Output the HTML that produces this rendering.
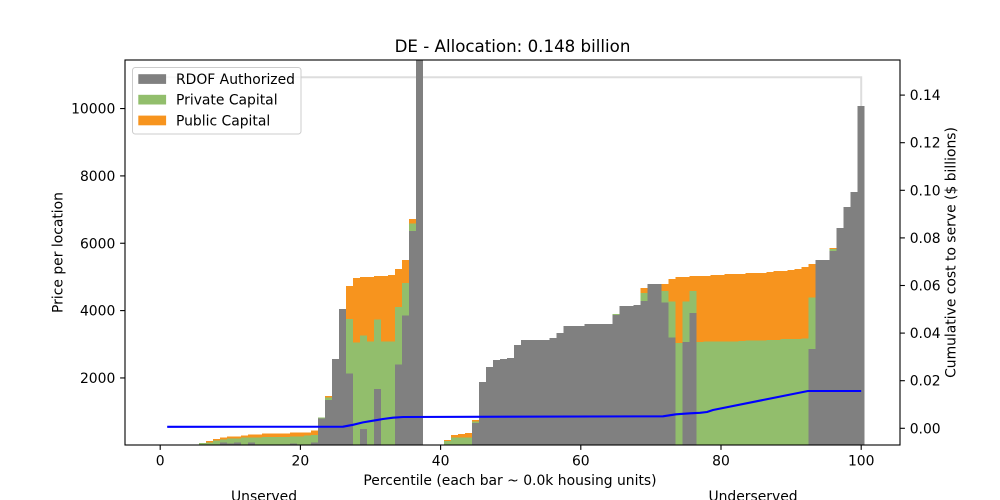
<!DOCTYPE html>
<html>
<head>
<meta charset="utf-8">
<style>
html,body{margin:0;padding:0;background:#fff;}
svg{display:block;}
text{font-family:"DejaVu Sans","Liberation Sans",sans-serif;fill:#000;}
</style>
</head>
<body>
<svg width="1000" height="500" viewBox="0 0 1000 500" xmlns="http://www.w3.org/2000/svg">
<rect x="0" y="0" width="1000" height="500" fill="#fff"/>
<defs><clipPath id="ax"><rect x="125" y="60" width="775" height="385"/></clipPath></defs>

<g clip-path="url(#ax)">
<polyline points="160.2,77.3 861.2,77.3 861.2,445" fill="none" stroke="#dddddd" stroke-width="2"/>

<g fill="#f7941e" shape-rendering="crispEdges">
<rect x="205.76" y="441" width="7.05" height="4"/>
<rect x="212.77" y="439" width="7.05" height="6"/>
<rect x="219.78" y="437.7" width="7.05" height="7.3"/>
<rect x="226.79" y="436.7" width="14.07" height="8.3"/>
<rect x="240.81" y="435.7" width="7.05" height="9.3"/>
<rect x="247.83" y="434.7" width="14.07" height="10.3"/>
<rect x="261.85" y="433.7" width="28.08" height="11.3"/>
<rect x="289.89" y="432.7" width="21.07" height="12.3"/>
<rect x="310.92" y="430.7" width="7.05" height="14.3"/>
<rect x="324.94" y="396" width="7.05" height="49"/>
<rect x="345.97" y="286" width="7.05" height="159"/>
<rect x="352.98" y="278" width="7.05" height="167"/>
<rect x="359.99" y="277" width="14.07" height="168"/>
<rect x="374.01" y="276" width="14.07" height="169"/>
<rect x="388.03" y="275" width="7.05" height="170"/>
<rect x="395.04" y="269" width="7.05" height="176"/>
<rect x="402.05" y="260" width="7.05" height="185"/>
<rect x="409.06" y="219" width="7.05" height="226"/>
<rect x="444.12" y="440" width="7.05" height="5"/>
<rect x="451.13" y="435" width="7.05" height="10"/>
<rect x="458.14" y="434" width="7.05" height="11"/>
<rect x="465.15" y="433" width="7.05" height="12"/>
<rect x="472.16" y="420" width="7.05" height="25"/>
<rect x="640.41" y="288" width="7.05" height="157"/>
<rect x="661.44" y="284" width="7.05" height="161"/>
<rect x="668.45" y="279" width="7.05" height="166"/>
<rect x="675.46" y="277" width="14.07" height="168"/>
<rect x="689.48" y="276" width="21.07" height="169"/>
<rect x="710.51" y="275" width="14.07" height="170"/>
<rect x="724.53" y="274" width="21.07" height="171"/>
<rect x="745.56" y="273" width="21.07" height="172"/>
<rect x="766.59" y="272" width="7.05" height="173"/>
<rect x="773.60" y="271" width="14.07" height="174"/>
<rect x="787.62" y="270" width="7.05" height="175"/>
<rect x="794.63" y="269" width="7.05" height="176"/>
<rect x="801.64" y="267" width="7.05" height="178"/>
<rect x="808.66" y="264" width="7.05" height="181"/>
<rect x="829.69" y="248" width="7.05" height="197"/>
</g>

<g fill="#92be6c" shape-rendering="crispEdges">
<rect x="198.75" y="443" width="7.05" height="2"/>
<rect x="205.76" y="442.3" width="7.05" height="2.7"/>
<rect x="212.77" y="440.3" width="7.05" height="4.7"/>
<rect x="219.78" y="439.3" width="7.05" height="5.7"/>
<rect x="226.79" y="438.7" width="14.07" height="6.3"/>
<rect x="240.81" y="437.7" width="21.07" height="7.3"/>
<rect x="261.85" y="437" width="28.08" height="8"/>
<rect x="289.89" y="436.7" width="7.05" height="8.3"/>
<rect x="296.90" y="436.3" width="7.05" height="8.7"/>
<rect x="303.91" y="435.7" width="7.05" height="9.3"/>
<rect x="310.92" y="435" width="7.05" height="10"/>
<rect x="317.93" y="417.7" width="7.05" height="27.3"/>
<rect x="324.94" y="397.7" width="7.05" height="47.3"/>
<rect x="345.97" y="319" width="7.05" height="126"/>
<rect x="352.98" y="342.7" width="7.05" height="102.3"/>
<rect x="359.99" y="335.7" width="7.05" height="109.3"/>
<rect x="367.00" y="341.7" width="7.05" height="103.3"/>
<rect x="374.01" y="319.7" width="7.05" height="125.3"/>
<rect x="381.02" y="341.7" width="14.07" height="103.3"/>
<rect x="395.04" y="307" width="7.05" height="138"/>
<rect x="402.05" y="283" width="7.05" height="162"/>
<rect x="409.06" y="223.7" width="7.05" height="221.3"/>
<rect x="444.12" y="441" width="7.05" height="4"/>
<rect x="451.13" y="437.7" width="7.05" height="7.3"/>
<rect x="458.14" y="437.3" width="14.07" height="7.7"/>
<rect x="472.16" y="421.3" width="7.05" height="23.7"/>
<rect x="612.37" y="314" width="7.05" height="131"/>
<rect x="640.41" y="293" width="7.05" height="152"/>
<rect x="661.44" y="291" width="7.05" height="154"/>
<rect x="668.45" y="301.7" width="7.05" height="143.3"/>
<rect x="675.46" y="343" width="7.05" height="102"/>
<rect x="682.47" y="301.7" width="7.05" height="143.3"/>
<rect x="689.48" y="291" width="7.05" height="154"/>
<rect x="696.49" y="342" width="7.05" height="103"/>
<rect x="703.50" y="341.5" width="35.1" height="103.5"/>
<rect x="738.55" y="341" width="7.05" height="104"/>
<rect x="745.56" y="340.5" width="21.07" height="104.5"/>
<rect x="766.59" y="340" width="14.07" height="105"/>
<rect x="780.61" y="339" width="21.07" height="106"/>
<rect x="801.64" y="338.7" width="7.05" height="106.3"/>
<rect x="808.66" y="297.7" width="7.05" height="147.3"/>
<rect x="829.69" y="249" width="7.05" height="196"/>
</g>

<g fill="#808080" shape-rendering="crispEdges">
<rect x="219.78" y="442.7" width="7.05" height="2.3"/>
<rect x="226.79" y="443.7" width="7.05" height="1.3"/>
<rect x="233.80" y="442.7" width="7.05" height="2.3"/>
<rect x="247.83" y="442.7" width="7.05" height="2.3"/>
<rect x="289.89" y="443.7" width="7.05" height="1.3"/>
<rect x="310.92" y="442.7" width="7.05" height="2.3"/>
<rect x="317.93" y="418.7" width="7.05" height="26.3"/>
<rect x="324.94" y="400" width="7.05" height="45"/>
<rect x="331.95" y="359" width="7.05" height="86"/>
<rect x="338.96" y="309" width="7.05" height="136"/>
<rect x="345.97" y="373.7" width="7.05" height="71.3"/>
<rect x="359.99" y="429" width="7.05" height="16"/>
<rect x="374.01" y="389" width="7.05" height="56"/>
<rect x="395.04" y="364.7" width="7.05" height="80.3"/>
<rect x="402.05" y="315.7" width="7.05" height="129.3"/>
<rect x="409.06" y="231" width="7.05" height="214"/>
<rect x="416.07" y="55" width="7.01" height="390"/>
<rect x="472.16" y="423" width="7.05" height="22"/>
<rect x="479.17" y="382" width="7.05" height="63"/>
<rect x="486.18" y="367" width="7.05" height="78"/>
<rect x="493.19" y="360" width="7.05" height="85"/>
<rect x="500.20" y="359" width="7.05" height="86"/>
<rect x="507.21" y="358" width="7.05" height="87"/>
<rect x="514.22" y="345" width="7.05" height="100"/>
<rect x="521.23" y="340" width="28.08" height="105"/>
<rect x="549.27" y="338" width="7.05" height="107"/>
<rect x="556.28" y="333" width="7.05" height="112"/>
<rect x="563.29" y="326" width="21.07" height="119"/>
<rect x="584.32" y="324" width="28.08" height="121"/>
<rect x="612.37" y="315" width="7.05" height="130"/>
<rect x="619.38" y="306" width="14.07" height="139"/>
<rect x="633.40" y="305" width="7.05" height="140"/>
<rect x="640.41" y="301" width="7.05" height="144"/>
<rect x="647.42" y="284" width="14.07" height="161"/>
<rect x="661.44" y="302.7" width="7.05" height="142.3"/>
<rect x="668.45" y="337.7" width="7.05" height="107.3"/>
<rect x="682.47" y="342" width="7.05" height="103"/>
<rect x="689.48" y="313" width="7.05" height="132"/>
<rect x="808.66" y="349" width="7.05" height="96"/>
<rect x="815.67" y="260" width="14.07" height="185"/>
<rect x="829.69" y="251" width="7.05" height="194"/>
<rect x="836.70" y="228" width="7.05" height="217"/>
<rect x="843.71" y="207" width="7.05" height="238"/>
<rect x="850.72" y="192" width="7.05" height="253"/>
<rect x="857.73" y="106" width="7.01" height="339"/>
</g>

<polyline points="167.2,426.8 343,426.7 353,424.8 363,422.4 373,420.7 383,419 393,417.7 403,417 663,416.3 676,414.3 690,413.3 700,412.8 707,412 713,410 808,391 861.2,391" fill="none" stroke="#0000ff" stroke-width="2.1" stroke-linejoin="round"/>
</g>

<rect x="125" y="60" width="775" height="385" fill="none" stroke="#000" stroke-width="1.1"/>

<g stroke="#000" stroke-width="1.1">
<line x1="160.2" y1="445" x2="160.2" y2="449.9"/>
<line x1="300.4" y1="445" x2="300.4" y2="449.9"/>
<line x1="440.6" y1="445" x2="440.6" y2="449.9"/>
<line x1="580.8" y1="445" x2="580.8" y2="449.9"/>
<line x1="721.0" y1="445" x2="721.0" y2="449.9"/>
<line x1="861.2" y1="445" x2="861.2" y2="449.9"/>
<line x1="120.1" y1="377.95" x2="125" y2="377.95"/>
<line x1="120.1" y1="310.6" x2="125" y2="310.6"/>
<line x1="120.1" y1="243.25" x2="125" y2="243.25"/>
<line x1="120.1" y1="175.9" x2="125" y2="175.9"/>
<line x1="120.1" y1="108.55" x2="125" y2="108.55"/>
<line x1="900" y1="428.3" x2="904.9" y2="428.3"/>
<line x1="900" y1="380.7" x2="904.9" y2="380.7"/>
<line x1="900" y1="333.1" x2="904.9" y2="333.1"/>
<line x1="900" y1="285.5" x2="904.9" y2="285.5"/>
<line x1="900" y1="237.9" x2="904.9" y2="237.9"/>
<line x1="900" y1="190.3" x2="904.9" y2="190.3"/>
<line x1="900" y1="142.7" x2="904.9" y2="142.7"/>
<line x1="900" y1="95.1" x2="904.9" y2="95.1"/>
</g>

<g font-size="13.9px" text-anchor="middle">
<text x="160.2" y="465.5">0</text>
<text x="300.4" y="465.5">20</text>
<text x="440.6" y="465.5">40</text>
<text x="580.8" y="465.5">60</text>
<text x="721.0" y="465.5">80</text>
<text x="861.2" y="465.5">100</text>
</g>
<g font-size="13.9px" text-anchor="end">
<text x="115.3" y="383">2000</text>
<text x="115.3" y="315.6">4000</text>
<text x="115.3" y="248.3">6000</text>
<text x="115.3" y="180.9">8000</text>
<text x="115.3" y="113.6">10000</text>
</g>
<g font-size="13.9px" text-anchor="start">
<text x="909.7" y="433.3">0.00</text>
<text x="909.7" y="385.7">0.02</text>
<text x="909.7" y="338.1">0.04</text>
<text x="909.7" y="290.5">0.06</text>
<text x="909.7" y="242.9">0.08</text>
<text x="909.7" y="195.3">0.10</text>
<text x="909.7" y="147.7">0.12</text>
<text x="909.7" y="100.1">0.14</text>
</g>

<text x="512.5" y="52" font-size="16.67px" text-anchor="middle">DE - Allocation: 0.148 billion</text>
<text x="510" y="485" font-size="13.9px" text-anchor="middle">Percentile (each bar ~ 0.0k housing units)</text>
<text x="264" y="500.8" font-size="13.9px" text-anchor="middle">Unserved</text>
<text x="753" y="500.8" font-size="13.9px" text-anchor="middle">Underserved</text>
<text transform="translate(62.5,252.5) rotate(-90)" font-size="13.9px" text-anchor="middle">Price per location</text>
<text transform="translate(955.5,252.5) rotate(-90)" font-size="13.9px" text-anchor="middle">Cumulative cost to serve ($ billions)</text>

<rect x="132.5" y="67.5" width="168.5" height="66.5" rx="2.8" ry="2.8" fill="#fff" fill-opacity="0.8" stroke="#cccccc" stroke-width="1"/>
<rect x="138.3" y="74.2" width="27.8" height="9.7" fill="#808080"/>
<rect x="138.3" y="94.8" width="27.8" height="9.7" fill="#92be6c"/>
<rect x="138.3" y="115.6" width="27.8" height="9.7" fill="#f7941e"/>
<g font-size="13.9px">
<text x="176" y="84">RDOF Authorized</text>
<text x="176" y="104.7">Private Capital</text>
<text x="176" y="125.5">Public Capital</text>
</g>
</svg>
</body>
</html>
